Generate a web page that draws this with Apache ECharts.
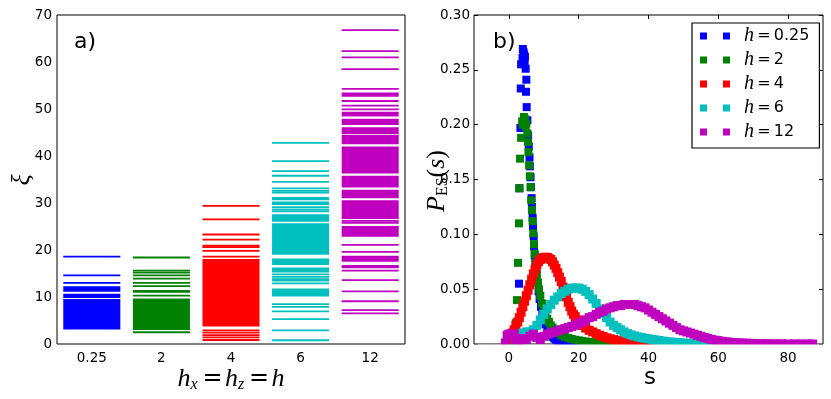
<!DOCTYPE html>
<html><head><meta charset="utf-8">
<script src="https://cdn.jsdelivr.net/npm/echarts@6/dist/echarts.min.js"></script>
<style>html,body{margin:0;padding:0;background:#fff}#c{width:831px;height:399px}</style>
</head><body><div id="c"></div>
<script>
// ---------- panel a) : entanglement-spectrum levels xi ----------
const hCats = ['0.25', '2', '4', '6', '12'];
// each entry [low, high]; a single level has low == high, a dense block has low < high
const xi_025 = [[18.6,18.6],[14.6,14.6],[13.0,13.0],[12.1,12.1],[11.7,11.7],[11.3,11.3],[9.8,10.7],[3.1,9.6]];
const xi_2 = [[18.4,18.4],[15.6,15.6],[15.2,15.2],[14.6,14.6],[13.9,13.9],[13.0,13.0],[12.3,12.3],[10.9,11.5],[10.3,10.3],[3.0,9.7],[2.5,2.5]];
const xi_4 = [[29.4,29.4],[26.5,26.5],[23.3,23.3],[22.2,22.2],[20.9,20.9],[20.6,20.6],[19.8,19.8],[18.6,18.6],[3.7,18.1],[2.9,2.9],[2.4,2.4],[1.9,1.9],[1.4,1.4],[0.85,0.85]];
const xi_6 = [[42.8,42.8],[38.9,38.9],[36.8,36.8],[35.8,35.8],[34.5,34.5],[33.1,33.1],[32.6,32.6],[32.2,32.2],[30.6,31.3],[29.6,30.3],[29.1,29.1],[28.6,28.6],[28.2,28.2],[26.0,27.6],[19.0,25.7],[16.8,18.2],[15.2,16.3],[14.8,14.8],[14.3,14.3],[13.8,13.8],[13.5,13.5],[12.9,12.9],[10.1,11.8],[8.5,8.5],[7.9,7.9],[6.95,6.95],[5.3,5.3],[2.9,2.9],[0.8,0.8]];
const xi_12 = [[66.8,66.8],[62.3,62.3],[61.0,61.0],[58.5,58.5],[54.3,54.3],[52.6,53.5],[51.7,51.7],[50.7,50.7],[49.9,49.9],[48.4,49.4],[46.6,47.9],[44.7,46.1],[42.5,44.5],[36.3,42.0],[33.3,35.8],[31.0,32.8],[26.6,30.6],[26.2,26.2],[25.8,25.8],[22.8,25.1],[21.1,21.1],[19.6,19.6],[17.5,18.8],[16.1,16.8],[15.6,15.6],[13.6,13.6],[11.2,11.2],[9.1,9.1],[7.2,7.2],[6.5,6.5]];
const xiTicks = [0,10,20,30,40,50,60,70];

// ---------- panel b) : P_ES(s) ----------
const s_025 = [0,1,2,2.6,2.9,3.0,3.3,3.4,3.5,3.9,4.0,4.2,4.3,4.5,4.6,4.8,4.9,5.0,5.1,5.3,5.5,5.7,5.9,6.0,6.2,6.3,6.5,6.6,6.8,6.9,7.1,7.2,7.4,7.6,7.9,8.2,8.5,8.8,9.2,9.6,10,10.5,11,11.5,12,12.5,13,13.5,14,15,16,17,18,19,20];
const p_025 = [0.000,0.000,0.001,0.010,0.055,0.142,0.197,0.233,0.255,0.261,0.269,0.266,0.264,0.257,0.262,0.251,0.230,0.241,0.216,0.204,0.190,0.180,0.170,0.162,0.152,0.143,0.133,0.125,0.115,0.107,0.098,0.089,0.081,0.074,0.065,0.056,0.048,0.041,0.034,0.028,0.023,0.018,0.014,0.011,0.008,0.0065,0.005,0.004,0.003,0.002,0.0012,0.0007,0.0004,0.0002,0.0001];
const s_2 = [0,0.5,1,1.5,2.0,2.3,2.6,2.9,3.0,3.2,3.5,3.8,4.0,4.3,4.6,4.8,5.0,5.3,5.5,5.6,5.8,6.0,6.2,6.4,6.6,6.8,7.0,7.2,7.4,7.6,7.8,8.0,8.3,8.6,9.0,9.5,10,10.5,11,11.5,12,12.5,13,14,15,16,17,18,19,20,21,22,23,24,25,26,27,28,29,30,32,34];
const p_2 = [0.000,0.001,0.003,0.007,0.019,0.040,0.074,0.110,0.142,0.169,0.188,0.203,0.200,0.207,0.205,0.198,0.201,0.192,0.184,0.175,0.163,0.153,0.143,0.131,0.122,0.112,0.101,0.091,0.082,0.074,0.068,0.063,0.056,0.050,0.044,0.037,0.032,0.027,0.023,0.020,0.017,0.015,0.013,0.010,0.008,0.0065,0.0055,0.0046,0.0039,0.0033,0.0028,0.0023,0.0019,0.0016,0.0013,0.0011,0.0009,0.0007,0.0005,0.0004,0.0002,0.0001];
const s_4 = [0,0.5,1,1.5,2,2.5,3,3.5,4,4.5,5,5.5,6,6.5,7,7.5,8,8.5,9,9.5,10,10.5,11,11.5,12,12.5,13,13.5,14,14.5,15,15.5,16,16.5,17,17.5,18,18.5,19,19.5,20,21,22,23,24,25,26,27,28,29,30,31,32,33,34,35,36,37,38,39,40];
const p_4 = [0.004,0.007,0.010,0.013,0.017,0.020,0.024,0.029,0.034,0.039,0.044,0.049,0.054,0.059,0.064,0.068,0.072,0.075,0.077,0.078,0.079,0.079,0.079,0.078,0.077,0.075,0.072,0.069,0.065,0.061,0.057,0.052,0.047,0.043,0.038,0.034,0.030,0.027,0.025,0.022,0.020,0.017,0.0145,0.0125,0.011,0.0095,0.008,0.0068,0.0057,0.0048,0.004,0.0034,0.0028,0.0023,0.0019,0.0015,0.0012,0.0009,0.0007,0.0005,0.0004];
const s_6 = [2,3,4,5,6,7,8,9,10,11,12,13,14,15,16,17,18,19,20,21,22,23,24,25,26,27,28,29,30,31,32,33,34,35,36,37,38,39,40,41,42,43,44,45,46,47,48,49,50,52,54,56,58];
const p_6 = [0.005,0.008,0.010,0.011,0.011,0.013,0.017,0.022,0.027,0.032,0.036,0.040,0.043,0.046,0.048,0.050,0.051,0.051,0.051,0.050,0.048,0.045,0.041,0.037,0.032,0.028,0.024,0.020,0.017,0.015,0.013,0.011,0.0095,0.0083,0.0073,0.0065,0.0058,0.0052,0.0047,0.0042,0.0037,0.0032,0.0027,0.0023,0.0019,0.0016,0.0013,0.0011,0.0009,0.0006,0.0004,0.0002,0.0001];
const s_12 = [-1,-0.5,0,0.5,1,1.5,2,3,4,5,6,7,8,9,10,11,12,13,14,15,16,17,18,19,20,21,22,23,24,25,26,27,28,29,30,31,32,33,34,35,36,37,38,39,40,41,42,43,44,45,46,47,48,49,50,51,52,53,54,55,56,57,58,59,60,61,62,63,64,65,66,67,68,69,70,72,74,76,78,80,82,84,86,87];
const p_12 = [0.001,0.008,0.009,0.009,0.008,0.009,0.004,0.003,0.005,0.004,0.007,0.009,0.006,0.004,0.007,0.009,0.010,0.011,0.012,0.013,0.014,0.015,0.016,0.017,0.019,0.020,0.022,0.024,0.025,0.027,0.029,0.030,0.032,0.033,0.034,0.035,0.035,0.036,0.036,0.036,0.036,0.035,0.034,0.033,0.031,0.029,0.027,0.025,0.023,0.021,0.019,0.017,0.015,0.013,0.012,0.011,0.010,0.009,0.008,0.007,0.006,0.005,0.0042,0.0035,0.003,0.0025,0.002,0.0017,0.0014,0.0012,0.001,0.0008,0.0007,0.0006,0.0005,0.0004,0.0003,0.0002,0.0002,0.0001,0.0001,0.0001,0,0,0];
const sTicks = [0,20,40,60,80];
const pTicks = [0,0.05,0.10,0.15,0.20,0.25,0.30];

const colors = ['#0000ff','#008000','#ff0000','#00bfbf','#bf00bf'];
const markerSizes = [8, 8, 9, 9, 9];
const xiSets = [xi_025, xi_2, xi_4, xi_6, xi_12];
const sSets = [s_025, s_2, s_4, s_6, s_12];
const pSets = [p_025, p_2, p_4, p_6, p_12];

const tickFont = {fontFamily:'DejaVu Sans', fontSize:13.5, color:'#000'};
const tickStyle = {inside:true, length:4, lineStyle:{color:'#000', width:1}};
const noLine = {show:false, onZero:false};

function xiRender(params, api) {
  const c = api.value(0), lo = api.value(1), hi = api.value(2);
  const pLo = api.coord([c, lo]), pHi = api.coord([c, hi]);
  const bw = api.size([1, 0])[0] * 0.82;
  let y = pHi[1], h = pLo[1] - pHi[1];
  if (h < 1.8) { y = (pLo[1] + pHi[1]) / 2 - 0.9; h = 1.8; }
  return {type:'rect', shape:{x:pLo[0]-bw/2, y:y, width:bw, height:h}, style:{fill:api.visual('color')}};
}

const series = [];
xiSets.forEach((set, i) => {
  series.push({
    type:'custom', name:'xi '+hCats[i], xAxisIndex:0, yAxisIndex:0,
    renderItem: xiRender, itemStyle:{color:colors[i]},
    encode:{x:0, y:[1,2]},
    data: set.map(d => [i, d[0], d[1]])
  });
});
sSets.forEach((sArr, i) => {
  series.push({
    type:'scatter', name:hCats[i], xAxisIndex:2, yAxisIndex:2,
    symbol:'rect', symbolSize:markerSizes[i],
    itemStyle:{color:colors[i], opacity:1},
    data: sArr.map((s, k) => [s, pSets[i][k]])
  });
});

const option = {
  animation:false,
  backgroundColor:'#fff',
  grid:[
    {left:57, top:15, width:348, height:329, show:true, borderColor:'#000', borderWidth:1},
    {left:474, top:15, width:349, height:329, show:true, borderColor:'#000', borderWidth:1}
  ],
  xAxis:[
    {gridIndex:0, type:'category', data:hCats, position:'bottom', axisLine:noLine,
     axisTick:Object.assign({alignWithLabel:true, interval:0}, tickStyle),
     axisLabel:Object.assign({interval:0, margin:7}, tickFont), splitLine:{show:false}},
    {gridIndex:0, type:'category', data:hCats, position:'top', axisLine:noLine,
     axisTick:Object.assign({alignWithLabel:true, interval:0}, tickStyle),
     axisLabel:{show:false}, splitLine:{show:false}},
    {gridIndex:1, type:'value', min:-10, max:90, position:'bottom', axisLine:noLine,
     axisTick:Object.assign({customValues:sTicks}, tickStyle),
     axisLabel:Object.assign({customValues:sTicks, margin:7}, tickFont), splitLine:{show:false}},
    {gridIndex:1, type:'value', min:-10, max:90, position:'top', axisLine:noLine,
     axisTick:Object.assign({customValues:sTicks}, tickStyle),
     axisLabel:{show:false}, splitLine:{show:false}}
  ],
  yAxis:[
    {gridIndex:0, type:'value', min:0, max:70, interval:10, position:'left', axisLine:noLine,
     axisTick:tickStyle, axisLabel:Object.assign({margin:5}, tickFont), splitLine:{show:false}},
    {gridIndex:0, type:'value', min:0, max:70, interval:10, position:'right', axisLine:noLine,
     axisTick:tickStyle, axisLabel:{show:false}, splitLine:{show:false}},
    {gridIndex:1, type:'value', min:0, max:0.3, interval:0.05, position:'left', axisLine:noLine,
     axisTick:tickStyle, axisLabel:Object.assign({margin:4, formatter:v => v.toFixed(2)}, tickFont), splitLine:{show:false}},
    {gridIndex:1, type:'value', min:0, max:0.3, interval:0.05, position:'right', axisLine:noLine,
     axisTick:tickStyle, axisLabel:{show:false}, splitLine:{show:false}}
  ],
  legend:{
    data:hCats, left:692, top:23, orient:'vertical', selectedMode:false,
    itemWidth:30, itemHeight:7, itemGap:4, padding:[3,10,6,8],
    borderColor:'#000', borderWidth:1.2, backgroundColor:'#fff',
    icon:'path://M0 0H7V7H0ZM23 0H30V7H23Z',
    formatter: n => '{sp| }{i|h}{n|\u2009=\u2009' + n + '}',
    textStyle:{rich:{
      sp:{width:9},
      i:{fontFamily:'Liberation Serif', fontStyle:'italic', fontSize:20, lineHeight:17, color:'#000'},
      n:{fontFamily:'DejaVu Sans', fontSize:16, lineHeight:17, color:'#000'}
    }}
  },
  graphic:[
    {type:'rect', z:50, shape:{x:474, y:344.6, width:350, height:4.5}, style:{fill:'#fff'}},
    {type:'text', left:74, top:31, style:{text:'a)', fontFamily:'DejaVu Sans', fontSize:22, fill:'#000'}},
    {type:'text', left:493, top:31, style:{text:'b)', fontFamily:'DejaVu Sans', fontSize:22, fill:'#000'}},
    {type:'text', x:22, y:180, rotation:Math.PI/2,
     style:{text:'ξ', fontFamily:'Liberation Serif', fontStyle:'italic', fontSize:26, fill:'#000', align:'center', verticalAlign:'middle'}},
    {type:'text', x:231, y:379,
     style:{text:'{i|h}{sub|x}{n|\u2009=\u200a}{i|h}{sub|z}{n|\u2009=\u200a}{i|h}', align:'center', verticalAlign:'middle',
       rich:{
         i:{fontFamily:'Liberation Serif', fontStyle:'italic', fontSize:26, lineHeight:28, fill:'#000'},
         sub:{fontFamily:'Liberation Serif', fontStyle:'italic', fontSize:16, lineHeight:14, verticalAlign:'bottom', fill:'#000'},
         n:{fontFamily:'DejaVu Sans', fontSize:24, lineHeight:28, fill:'#000'}
       }}},
    {type:'text', x:437, y:181, rotation:Math.PI/2,
     style:{text:'{i|P}{sub|ES}{n|(}{i|s}{n|)}', align:'center', verticalAlign:'middle',
       rich:{
         i:{fontFamily:'Liberation Serif', fontStyle:'italic', fontSize:26, lineHeight:28, fill:'#000'},
         sub:{fontFamily:'Liberation Serif', fontSize:16, lineHeight:14, verticalAlign:'bottom', fill:'#000'},
         n:{fontFamily:'Liberation Serif', fontSize:26, lineHeight:28, fill:'#000'}
       }}},
    {type:'text', x:650, y:378,
     style:{text:'s', fontFamily:'DejaVu Sans', fontSize:23, fill:'#000', align:'center', verticalAlign:'middle'}}
  ],
  series: series
};
const chart = echarts.init(document.getElementById('c'), null, {renderer:'canvas'});
chart.setOption(option);
</script>
</body></html>
